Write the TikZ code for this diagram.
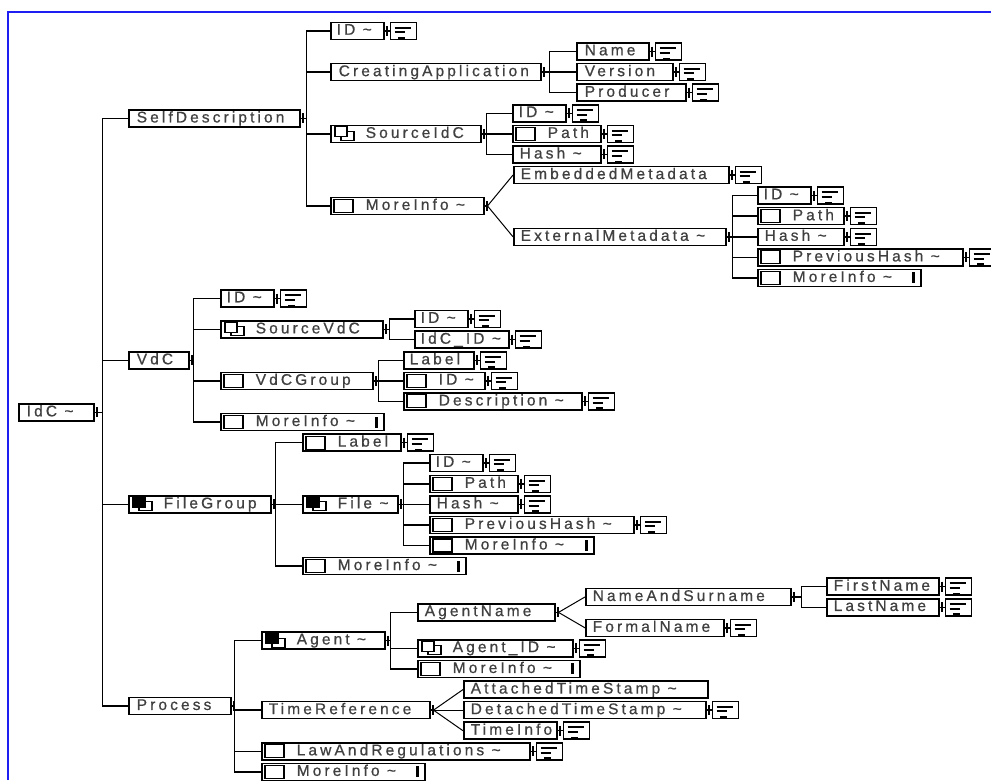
\documentclass[tikz,border=0pt]{standalone}
\usepackage{fontspec}
\newfontfamily\elfont[LetterSpace=20,FakeBold=0.7]{Liberation Sans}
\usetikzlibrary{calc,positioning}
\definecolor{txt}{HTML}{404040}
\definecolor{frameblue}{HTML}{1E1EF2}
\newcommand\R[1]{{31+20.58*(#1)}}
\newcommand\tld{\textasciitilde}
\newcommand\bx[3]{\hbox to #1pt{\hskip#2pt\vphantom{Ag}#3\hss}}
\tikzset{
  el/.style={draw, line width=1.5pt, fill=white, inner sep=0pt, minimum height=17pt,
    anchor=west, text=txt, font=\elfont\fontsize{15.5}{17}\selectfont},
  conn/.style={line width=1.5pt},
  choiceln/.style={line width=1pt},
  ricon/.style={draw, line width=1.5pt, fill=white, minimum width=26pt,
    minimum height=17pt, inner sep=0pt, anchor=west},
}
% right-hand detail icon
\newcommand\ric[1]{%
  \node[ricon, right=5pt of #1] (#1i) {};
  \draw[conn] (#1.east) -- (#1i.west);
  \draw[conn] ($(#1.east)+(2.5,-5)$) -- ++(0,10);
  \draw[line width=2pt] ($(#1i.north west)+(5,6)$) -- ++(16,0);
  \draw[line width=2pt] ($(#1i.north west)+(5,10.5)$) -- ++(10,0);
  \fill ($(#1i.south west)+(8,-3.2)$) rectangle ++(7,3.2);
}
% optional square
\newcommand\isq[1]{\draw[line width=1.1pt] ($(#1.west)+(4,-6.5)$) rectangle ++(19,13);}
% two overlapping squares
\newcommand\idd[1]{%
  \draw[line width=1.1pt, fill=white] ($(#1.west)+(11,-2.5)$) rectangle ++(13,9);
  \draw[line width=1.1pt, fill=white] ($(#1.west)+(5,-7)$) rectangle ++(12,10);
}
% black and white squares
\newcommand\ibw[1]{%
  \draw[line width=1.1pt, fill=white] ($(#1.west)+(11,-2.5)$) rectangle ++(13,9);
  \draw[line width=1.1pt, fill=black] ($(#1.west)+(5,-7)$) rectangle ++(12,10);
}
% thick bar near right end
\newcommand\ibar[1]{\fill ($(#1.east)+(-10,-5.5)$) rectangle ++(3.5,11);}
% bus from a parent
\newcommand\bus[2]{%
  \coordinate (#1b) at ($(#1.east)+(#2,0)$);
  \draw[conn] (#1.east) -- (#1b);
  \draw[conn] ($(#1.east)+(2.5,-5)$) -- ++(0,10);}
\newcommand\kids[2]{\foreach \c in {#2} {\draw[conn] (#1b) |- (\c.west);}}
\newcommand\chc[1]{%
  \coordinate (#1b) at ($(#1.east)+(3,0)$);
  \draw[conn] (#1.east) -- (#1b);
  \draw[conn] ($(#1.east)+(2.5,-5)$) -- ++(0,10);}
\newcommand\ckids[2]{\foreach \c in {#2} {\draw[choiceln] (#1b) -- (\c.west);}}

\begin{document}
\begin{tikzpicture}[x=1pt,y=-1pt]
\useasboundingbox (0,0) rectangle (991,780);
\draw[frameblue, line width=2pt] (8,780) -- (8,12) -- (991,12);

% ---- top level
\node[el] (idc) at (18,\R{18.53}) {\bx{75}{8}{IdC \tld}};
\node[el] (sd)  at (128,\R{4.25}) {\bx{171}{8}{SelfDescription}};
\node[el] (vdc) at (128,\R{16}) {\bx{60}{8}{VdC}};
\node[el] (fg)  at (128,\R{23}) {\bx{142}{35}{FileGroup}};
\node[el] (pr)  at (128,\R{32.81}) {\bx{102}{8}{Process}};
\ibw{fg}
\bus{idc}{8}
\kids{idc}{sd,vdc,fg,pr}

% ---- SelfDescription
\node[el] (sdid) at (330,\R{0}) {\bx{53}{6}{ID \tld}};
\node[el] (ca)   at (330,\R{2}) {\bx{210}{8}{CreatingApplication}};
\node[el] (sic)  at (330,\R{5}) {\bx{150}{35}{SourceIdC}};
\node[el] (sdmi) at (330,\R{8.5}) {\bx{153}{35}{MoreInfo \tld}};
\idd{sic} \isq{sdmi}
\ric{sdid}
\bus{sd}{6}
\kids{sd}{sdid,ca,sic,sdmi}

\node[el] (nm)   at (576,\R{1}) {\bx{72}{8}{Name}};
\node[el] (ver)  at (576,\R{2}) {\bx{96}{8}{Version}};
\node[el] (prod) at (576,\R{3}) {\bx{109}{8}{Producer}};
\ric{nm} \ric{ver} \ric{prod}
\bus{ca}{8}
\kids{ca}{nm,ver,prod}

\node[el] (sicid)   at (512,\R{4}) {\bx{53}{6}{ID \tld}};
\node[el] (sicpath) at (512,\R{5}) {\bx{88}{35}{Path}};
\node[el] (sichash) at (512,\R{6}) {\bx{88}{7}{Hash \tld}};
\isq{sicpath}
\ric{sicid} \ric{sicpath} \ric{sichash}
\bus{sic}{5}
\kids{sic}{sicid,sicpath,sichash}

\node[el] (emb) at (513,\R{7}) {\bx{215}{7}{EmbeddedMetadata}};
\node[el] (ext) at (513,\R{10}) {\bx{212}{7}{ExternalMetadata \tld}};
\ric{emb}
\chc{sdmi}
\ckids{sdmi}{emb,ext}

\node[el] (exid)   at (757,\R{8}) {\bx{53}{6}{ID \tld}};
\node[el] (expath) at (757,\R{9}) {\bx{86}{35}{Path}};
\node[el] (exhash) at (757,\R{10}) {\bx{86}{7}{Hash \tld}};
\node[el] (exprev) at (757,\R{11}) {\bx{205}{35}{PreviousHash \tld}};
\node[el] (exmi)   at (757,\R{12}) {\bx{163}{35}{MoreInfo \tld}};
\isq{expath} \isq{exprev} \isq{exmi} \ibar{exmi}
\ric{exid} \ric{expath} \ric{exhash} \ric{exprev}
\bus{ext}{6}
\kids{ext}{exid,expath,exhash,exprev,exmi}

% ---- VdC
\node[el] (vid)  at (220,\R{13}) {\bx{53}{6}{ID \tld}};
\node[el] (svdc) at (220,\R{14.5}) {\bx{162}{35}{SourceVdC}};
\node[el] (vgrp) at (220,\R{17}) {\bx{152}{35}{VdCGroup}};
\node[el] (vmi)  at (220,\R{19}) {\bx{163}{35}{MoreInfo \tld}};
\idd{svdc} \isq{vgrp} \isq{vmi} \ibar{vmi}
\ric{vid}
\bus{vdc}{4}
\kids{vdc}{vid,svdc,vgrp,vmi}

\node[el] (svid)  at (414,\R{14}) {\bx{53}{6}{ID \tld}};
\node[el] (svidc) at (414,\R{15}) {\bx{94}{6}{IdC\_ID \tld}};
\ric{svid} \ric{svidc}
\bus{svdc}{6}
\kids{svdc}{svid,svidc}

\node[el] (vlab)  at (403,\R{16}) {\bx{70}{6}{Label}};
\node[el] (vgid)  at (403,\R{17}) {\bx{81}{35}{ID \tld}};
\node[el] (vdesc) at (403,\R{18}) {\bx{178}{35}{Description \tld}};
\isq{vgid} \isq{vdesc}
\ric{vlab} \ric{vgid} \ric{vdesc}
\bus{vgrp}{5}
\kids{vgrp}{vlab,vgid,vdesc}

% ---- FileGroup
\node[el] (flab) at (302,\R{20}) {\bx{98}{35}{Label}};
\node[el] (file) at (302,\R{23}) {\bx{95}{35}{File \tld}};
\node[el] (fgmi) at (302,\R{26}) {\bx{163}{35}{MoreInfo \tld}};
\isq{flab} \ibw{file} \isq{fgmi} \ibar{fgmi}
\ric{flab}
\bus{fg}{4}
\kids{fg}{flab,file,fgmi}

\node[el] (fid)   at (429,\R{21}) {\bx{53}{6}{ID \tld}};
\node[el] (fpath) at (429,\R{22}) {\bx{88}{35}{Path}};
\node[el] (fhash) at (429,\R{23}) {\bx{88}{7}{Hash \tld}};
\node[el] (fprev) at (429,\R{24}) {\bx{204}{35}{PreviousHash \tld}};
\node[el] (fmi)   at (429,\R{25}) {\bx{164}{35}{MoreInfo \tld}};
\isq{fpath} \isq{fprev} \isq{fmi} \ibar{fmi}
\ric{fid} \ric{fpath} \ric{fhash} \ric{fprev}
\bus{file}{5}
\kids{file}{fid,fpath,fhash,fprev,fmi}

% ---- Process
\node[el] (ag)  at (261,\R{29.625}) {\bx{123}{35}{Agent \tld}};
\node[el] (tr)  at (261,\R{33}) {\bx{168}{7}{TimeReference}};
\node[el] (law) at (261,\R{35}) {\bx{268}{35}{LawAndRegulations \tld}};
\node[el] (pmi) at (261,\R{36}) {\bx{163}{35}{MoreInfo \tld}};
\ibw{ag} \isq{law} \isq{pmi} \ibar{pmi}
\ric{law}
\bus{pr}{3}
\kids{pr}{ag,tr,law,pmi}

\node[el] (an)  at (417,\R{28.25}) {\bx{137}{7}{AgentName}};
\node[el] (aid) at (417,\R{30}) {\bx{155}{35}{Agent\_ID \tld}};
\node[el] (ami) at (417,\R{31}) {\bx{162}{35}{MoreInfo \tld}};
\idd{aid} \isq{ami} \ibar{ami}
\ric{aid}
\bus{ag}{5}
\kids{ag}{an,aid,ami}

\node[el] (nas) at (585,\R{27.5}) {\bx{205}{7}{NameAndSurname}};
\node[el] (fn)  at (585,\R{29}) {\bx{138}{7}{FormalName}};
\ric{fn}
\chc{an}
\ckids{an}{nas,fn}

\node[el] (first) at (826,\R{27}) {\bx{112}{7}{FirstName}};
\node[el] (last)  at (826,\R{28}) {\bx{112}{7}{LastName}};
\ric{first} \ric{last}
\bus{nas}{10}
\kids{nas}{first,last}

\node[el] (att) at (463,\R{32}) {\bx{244}{7}{AttachedTimeStamp \tld}};
\node[el] (det) at (463,\R{33}) {\bx{242}{7}{DetachedTimeStamp \tld}};
\node[el] (ti)  at (463,\R{34}) {\bx{93}{7}{TimeInfo}};
\ric{det} \ric{ti}
\chc{tr}
\ckids{tr}{att,det,ti}
\end{tikzpicture}
\end{document}
